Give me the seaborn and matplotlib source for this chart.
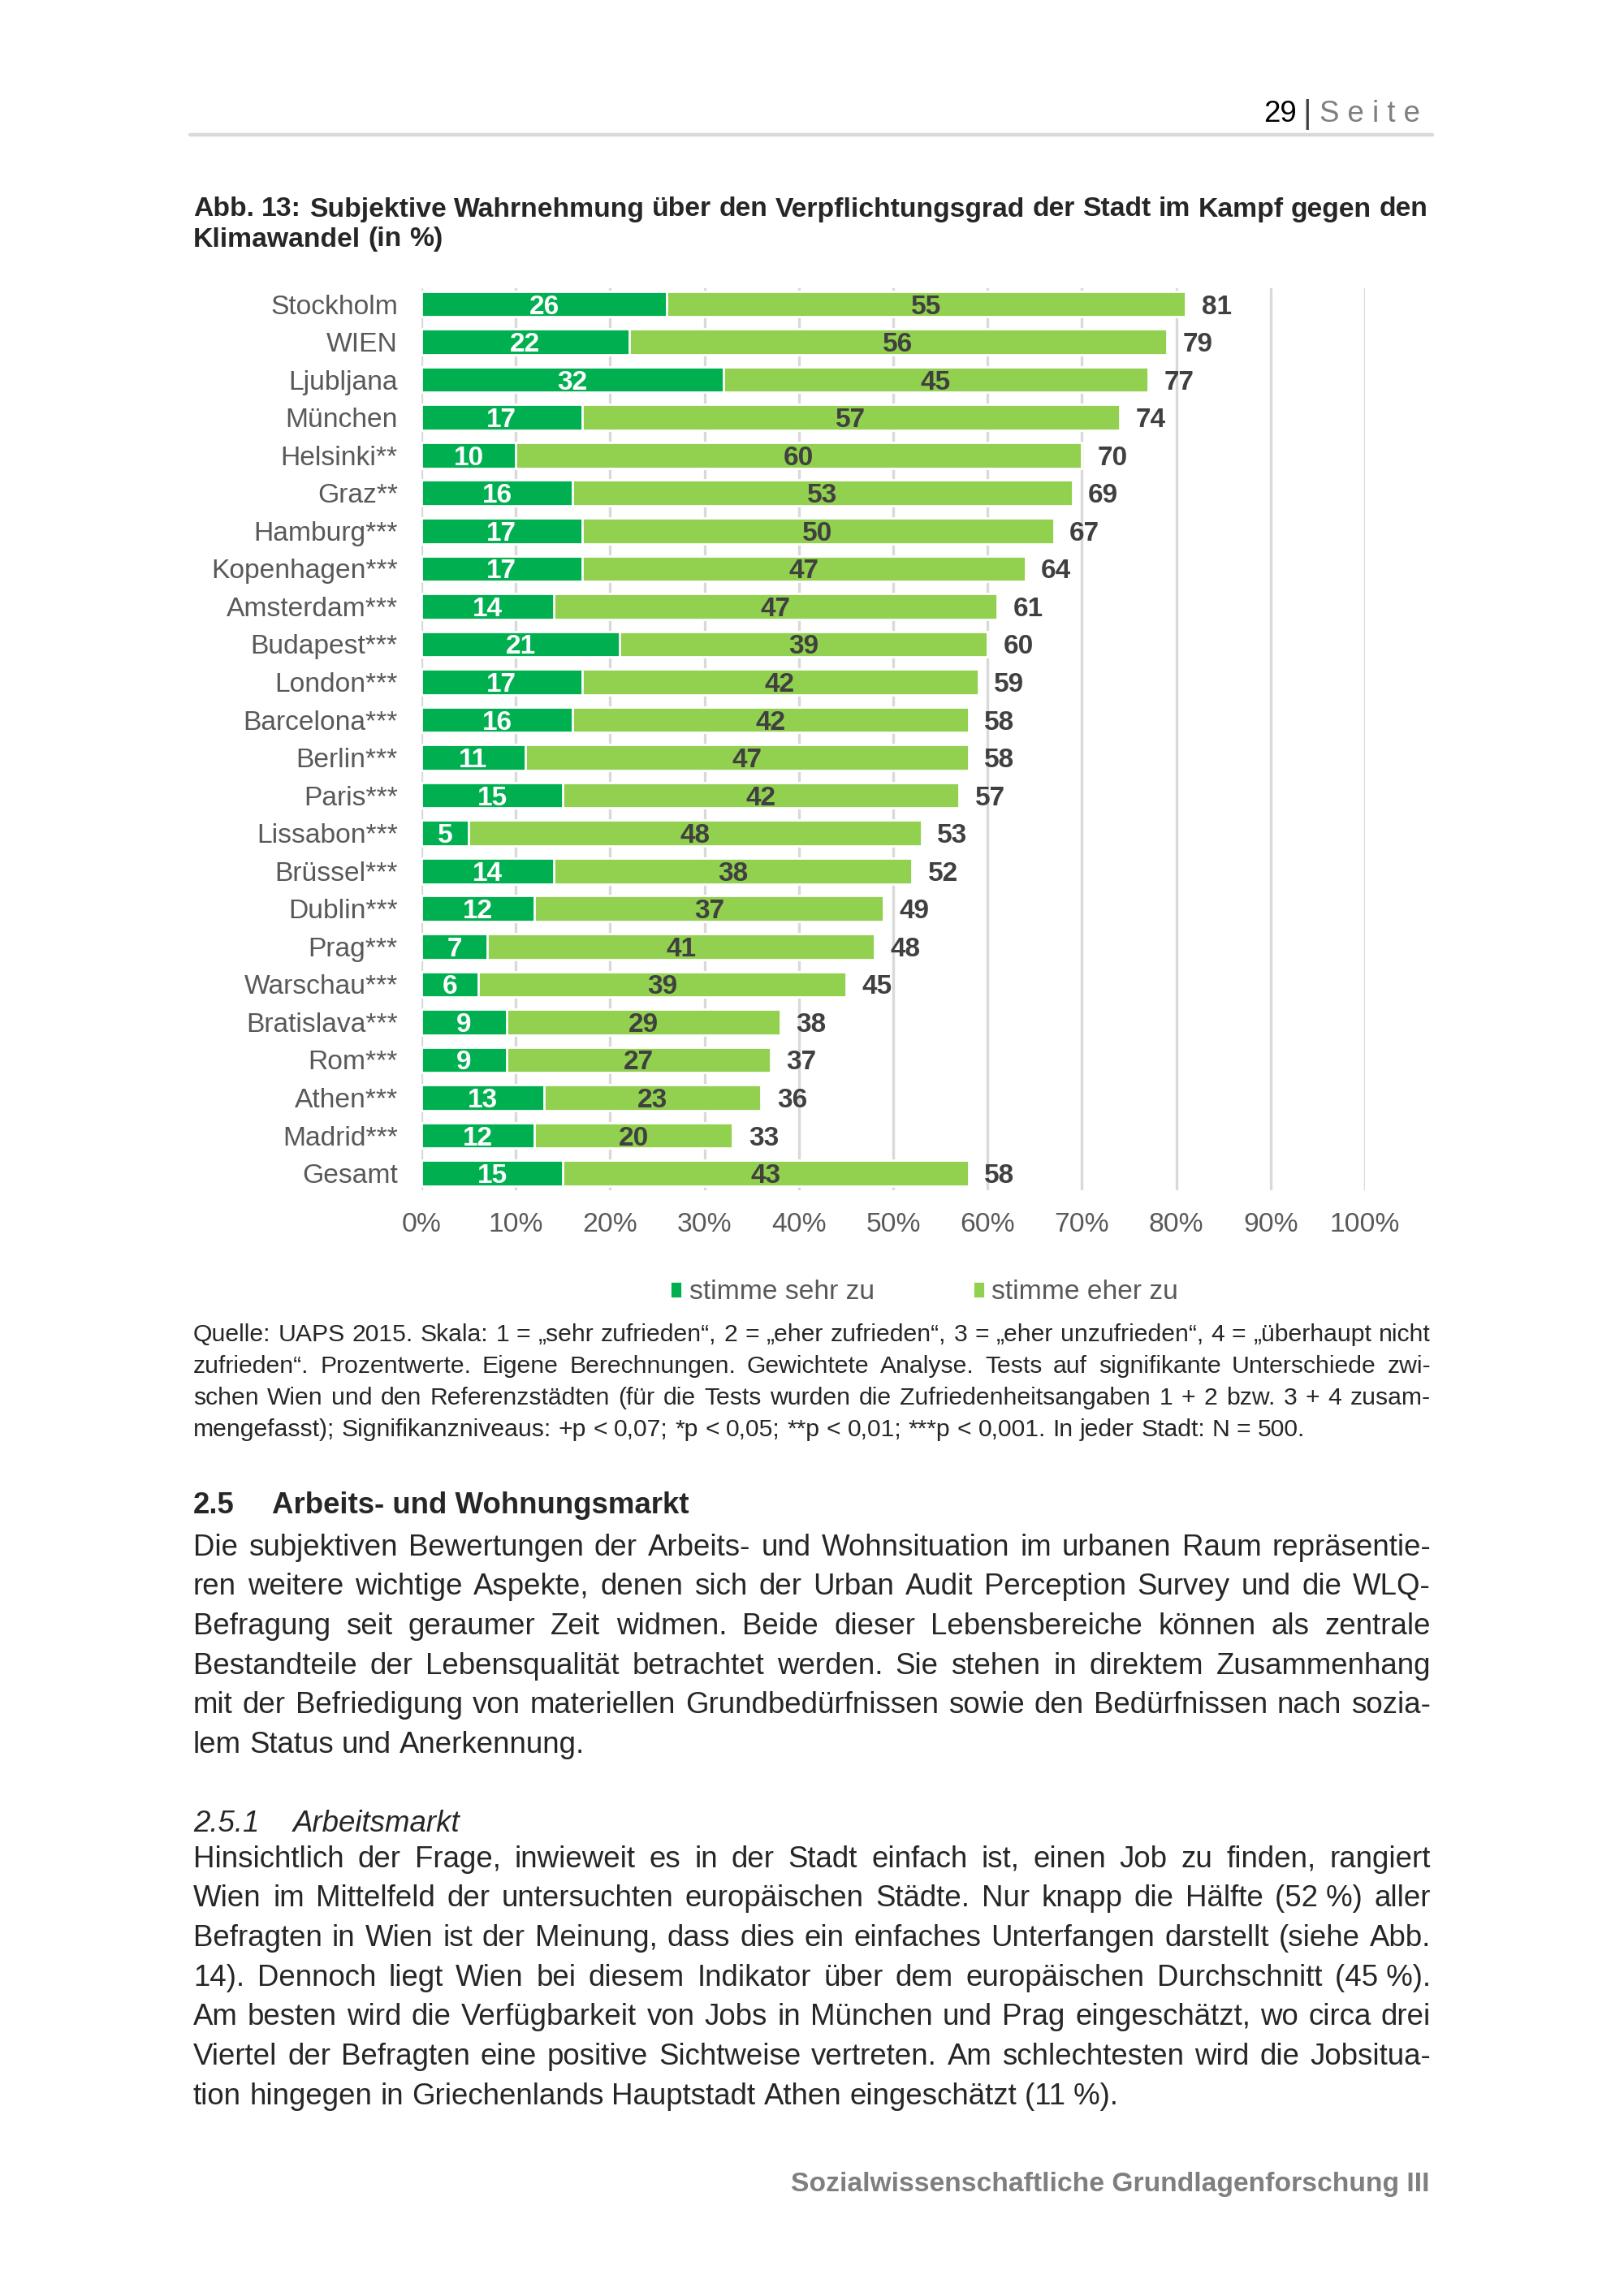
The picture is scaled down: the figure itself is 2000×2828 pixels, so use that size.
import matplotlib
matplotlib.use("Agg")
import matplotlib.pyplot as plt
from matplotlib.lines import Line2D
from matplotlib.patches import Patch
from matplotlib.ticker import PercentFormatter
import pandas as pd
import seaborn as sns

# ---------------------------------------------------------------
# DATA (Abb. 13, UAPS 2015)
# ---------------------------------------------------------------
cities = ["Stockholm", "WIEN", "Ljubljana", "München", "Helsinki**", "Graz**",
          "Hamburg***", "Kopenhagen***", "Amsterdam***", "Budapest***", "London***",
          "Barcelona***", "Berlin***", "Paris***", "Lissabon***", "Brüssel***",
          "Dublin***", "Prag***", "Warschau***", "Bratislava***", "Rom***",
          "Athen***", "Madrid***", "Gesamt"]
sehr_zu = [26, 22, 32, 17, 10, 16, 17, 17, 14, 21, 17, 16, 11, 15, 5, 14, 12, 7, 6, 9, 9, 13, 12, 15]
eher_zu = [55, 56, 45, 57, 60, 53, 50, 47, 47, 39, 42, 42, 47, 42, 48, 38, 37, 41, 39, 29, 27, 23, 20, 43]
gesamt = [81, 79, 77, 74, 70, 69, 67, 64, 61, 60, 59, 58, 58, 57, 53, 52, 49, 48, 45, 38, 37, 36, 33, 58]
x_ticks = [0, 10, 20, 30, 40, 50, 60, 70, 80, 90, 100]
legend_labels = ["stimme sehr zu", "stimme eher zu"]

DARK = "#00B050"
LIGHT = "#92D050"
GREY_TXT = "#595959"
VAL_TXT = "#404040"

# ---------------------------------------------------------------
# PAGE TEXT
# ---------------------------------------------------------------
title_lines = [
    "Abb. 13: Subjektive Wahrnehmung über den Verpflichtungsgrad der Stadt im Kampf gegen den",
    "Klimawandel (in %)",
]
source_lines = [
    "Quelle: UAPS 2015. Skala: 1 = „sehr zufrieden“, 2 = „eher zufrieden“, 3 = „eher unzufrieden“, 4 = „überhaupt nicht",
    "zufrieden“. Prozentwerte. Eigene Berechnungen. Gewichtete Analyse. Tests auf signifikante Unterschiede zwi-",
    "schen Wien und den Referenzstädten (für die Tests wurden die Zufriedenheitsangaben 1 + 2 bzw. 3 + 4 zusam-",
    "mengefasst); Signifikanzniveaus: +p < 0,07; *p < 0,05; **p < 0,01; ***p < 0,001. In jeder Stadt: N = 500.",
]
para1 = [
    "Die subjektiven Bewertungen der Arbeits- und Wohnsituation im urbanen Raum repräsentie-",
    "ren weitere wichtige Aspekte, denen sich der Urban Audit Perception Survey und die WLQ-",
    "Befragung seit geraumer Zeit widmen. Beide dieser Lebensbereiche können als zentrale",
    "Bestandteile der Lebensqualität betrachtet werden. Sie stehen in direktem Zusammenhang",
    "mit der Befriedigung von materiellen Grundbedürfnissen sowie den Bedürfnissen nach sozia-",
    "lem Status und Anerkennung.",
]
para2 = [
    "Hinsichtlich der Frage, inwieweit es in der Stadt einfach ist, einen Job zu finden, rangiert",
    "Wien im Mittelfeld der untersuchten europäischen Städte. Nur knapp die Hälfte (52\u00a0%) aller",
    "Befragten in Wien ist der Meinung, dass dies ein einfaches Unterfangen darstellt (siehe Abb.",
    "14). Dennoch liegt Wien bei diesem Indikator über dem europäischen Durchschnitt (45\u00a0%).",
    "Am besten wird die Verfügbarkeit von Jobs in München und Prag eingeschätzt, wo circa drei",
    "Viertel der Befragten eine positive Sichtweise vertreten. Am schlechtesten wird die Jobsitua-",
    "tion hingegen in Griechenlands Hauptstadt Athen eingeschätzt (11\u00a0%).",
]

W, H = 2000, 2828
LEFT, RIGHT = 238, 1762

sns.set_style("white")
plt.rcParams["font.family"] = ["Liberation Sans", "DejaVu Sans"]

fig = plt.figure(figsize=(W / 200, H / 200), dpi=200)
renderer = fig.canvas.get_renderer()


def fy(y):
    return 1 - y / H


def put_line(text, y, x0=LEFT, x1=RIGHT, justify=False, **kw):
    # one text object per word, so the line can be justified like in Word
    words = text.split(" ")
    objs = [fig.text(0, fy(y), w, va="center", ha="left", **kw) for w in words]
    widths = [o.get_window_extent(renderer).width for o in objs]
    probe_a = fig.text(0, 0, "a a", **kw)
    probe_b = fig.text(0, 0, "aa", **kw)
    space = probe_a.get_window_extent(renderer).width - probe_b.get_window_extent(renderer).width
    probe_a.remove()
    probe_b.remove()
    gap = space
    if justify and len(words) > 1:
        gap = (x1 - x0 - sum(widths)) / (len(words) - 1)
    x = x0
    for o, w in zip(objs, widths):
        o.set_x(x / W)
        x += w + gap


def put_paragraph(lines, y0, step, **kw):
    for i, line in enumerate(lines):
        put_line(line, y0 + i * step, justify=(i < len(lines) - 1), **kw)


# ---------------------------------------------------------------
# HEADER
# ---------------------------------------------------------------
fig.text(1749 / W, fy(141), "S e i t e", ha="right", va="center", fontsize=13.2, color="#7f7f7f")
fig.text(1610 / W, fy(141), "|", ha="center", va="center", fontsize=14.5, color="#404040")
fig.text(1597 / W, fy(141), "29", ha="right", va="center", fontsize=13.2, color="black")
fig.add_artist(Line2D([234 / W, 1764 / W], [fy(166), fy(166)], color="#d9d9d9", lw=1.6))

for i, line in enumerate(title_lines):
    put_line(line, 258 + i * 37, fontsize=12.15, fontweight="bold")

# ---------------------------------------------------------------
# CHART
# ---------------------------------------------------------------
ax = fig.add_axes([519 / W, fy(1466), 1162 / W, (1466 - 355) / H])
df = pd.DataFrame({"stadt": cities, "sehr": sehr_zu, "eher": eher_zu, "gesamt": gesamt})

sns.barplot(data=df, x="gesamt", y="stadt", color=LIGHT, saturation=1,
            width=0.68, orient="h", ax=ax)
sns.barplot(data=df, x="sehr", y="stadt", color=DARK, saturation=1,
            width=0.68, orient="h", ax=ax)

ax.set_xlim(0, 100)
ax.set_ylim(len(cities) - 0.55, -0.42)
ax.set_xticks(x_ticks)
ax.xaxis.set_major_formatter(PercentFormatter(xmax=100, decimals=0))
ax.grid(axis="x", color="#d9d9d9", lw=1.2)
ax.set_axisbelow(True)
sns.despine(ax=ax, left=True, bottom=True)
ax.set_xlabel("")
ax.set_ylabel("")
ax.tick_params(axis="y", length=0, pad=10.5, labelsize=12.1, labelcolor=GREY_TXT)
ax.tick_params(axis="x", length=0, pad=9.8, labelsize=12.1, labelcolor=GREY_TXT)

for i, row in df.iterrows():
    ax.text(row["sehr"] / 2, i, str(row["sehr"]), ha="center", va="center_baseline",
            color="white", fontsize=12, fontweight="bold")
    ax.text((row["sehr"] + row["gesamt"]) / 2, i, str(row["eher"]), ha="center",
            va="center_baseline", color=VAL_TXT, fontsize=12, fontweight="bold")
    ax.annotate(str(row["gesamt"]), (row["gesamt"], i), xytext=(7, 0),
                textcoords="offset points", ha="left", va="center_baseline",
                color=VAL_TXT, fontsize=12, fontweight="bold")

handles = [Patch(facecolor=DARK), Patch(facecolor=LIGHT)]
fig.legend(handles, legend_labels, loc="center", bbox_to_anchor=(1138 / W, fy(1592)),
           ncol=2, frameon=False, fontsize=12.1, labelcolor=GREY_TXT,
           handlelength=0.45, handleheight=0.6, handletextpad=0.25, columnspacing=3.6)

# ---------------------------------------------------------------
# SOURCE NOTE + BODY TEXT
# ---------------------------------------------------------------
put_paragraph(source_lines, 1644, 39, fontsize=10.85)

fig.text(LEFT / W, fy(1855), "2.5", ha="left", va="center", fontsize=13.2, fontweight="bold")
fig.text(335 / W, fy(1855), "Arbeits- und Wohnungsmarkt", ha="left", va="center",
         fontsize=13.2, fontweight="bold")
put_paragraph(para1, 1906, 48.7, fontsize=13.2)

fig.text(LEFT / W, fy(2246), "2.5.1", ha="left", va="center", fontsize=13.2, style="italic")
fig.text(361 / W, fy(2246), "Arbeitsmarkt", ha="left", va="center", fontsize=13.2, style="italic")
put_paragraph(para2, 2290, 48.7, fontsize=13.2)

fig.text(1760 / W, fy(2690), "Sozialwissenschaftliche Grundlagenforschung III", ha="right",
         va="center", fontsize=12.1, fontweight="bold", color="#7f7f7f")

fig.savefig("out.png", dpi=200, facecolor="white")
plt.close(fig)
